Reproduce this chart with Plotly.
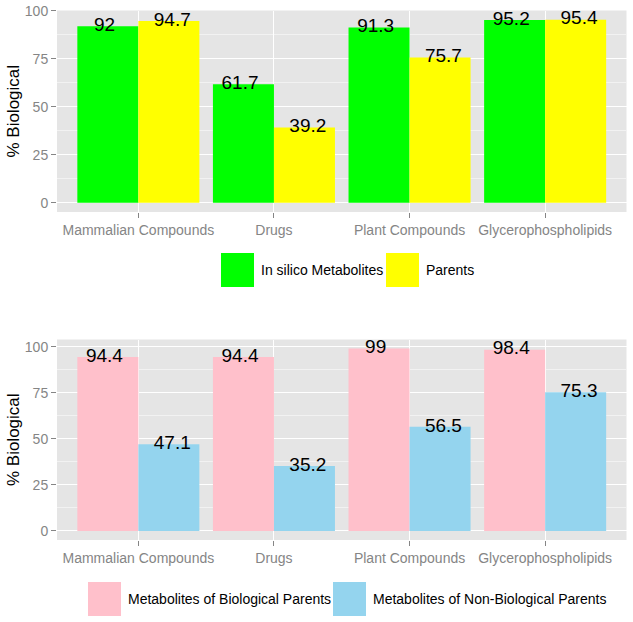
import numpy as np
import plotly.graph_objects as go

# ── data ──
categories = ["Mammalian Compounds", "Drugs", "Plant Compounds", "Glycerophospholipids"]

top_series = ["In silico Metabolites", "Parents"]
top_insilico = [92, 61.7, 91.3, 95.2]
top_parents = [94.7, 39.2, 75.7, 95.4]

bottom_series = ["Metabolites of Biological Parents", "Metabolites of Non-Biological Parents"]
bottom_bio = [94.4, 94.4, 99, 98.4]
bottom_nonbio = [47.1, 35.2, 56.5, 75.3]

y_ticks = [0, 25, 50, 75, 100]

# ── style ──
W, H = 633, 622
FONT = "Liberation Sans, Arial, sans-serif"
GREY = "#858585"
PANEL = "#E5E5E5"
top_colors = ["#00FF00", "#FFFF00"]
bottom_colors = ["#FFC0CB", "#94D4EE"]


def px_x(x):
    return x / W


def px_y(y):
    return 1 - y / H


pos = np.arange(1, len(categories) + 1)

fig = go.Figure()


def add_panel(series_names, values, colors, xa, ya):
    for k, (name, vals, col) in enumerate(zip(series_names, values, colors)):
        fig.add_trace(go.Bar(
            x=pos, y=vals, name=name, marker=dict(color=col, line=dict(width=0)),
            xaxis=xa, yaxis=ya, showlegend=False, offsetgroup=str(k),
        ))
    # labels centred on bar tops
    for k, vals in enumerate(values):
        shift = -0.25 if k == 0 else 0.25
        fig.add_trace(go.Scatter(
            x=pos + shift, y=vals, mode="text",
            text=[f"{v:g}" for v in vals], textposition="middle center",
            textfont=dict(family=FONT, size=19, color="black"),
            xaxis=xa, yaxis=ya, showlegend=False, hoverinfo="skip",
        ))


add_panel(top_series, [top_insilico, top_parents], top_colors, "x", "y")
add_panel(bottom_series, [bottom_bio, bottom_nonbio], bottom_colors, "x2", "y2")


def xaxis_style(anchor, domain):
    return dict(
        domain=domain, anchor=anchor, range=[0.4, 4.6], automargin=False,
        tickvals=list(pos), ticktext=categories,
        tickfont=dict(family=FONT, size=14, color=GREY),
        ticks="outside", ticklen=5, tickcolor=GREY,
        showgrid=True, gridcolor="white", gridwidth=1.3,
        zeroline=False, showline=False,
    )


def yaxis_style(anchor, domain, vals):
    mx = max(max(v) for v in vals)
    return dict(
        domain=domain, anchor=anchor, range=[-0.05 * mx, 1.05 * mx], automargin=False,
        tickvals=y_ticks,
        tickfont=dict(family=FONT, size=14, color=GREY),
        ticks="outside", ticklen=5, tickcolor=GREY,
        showgrid=True, gridcolor="white", gridwidth=1.3,
        minor=dict(dtick=12.5, tick0=0, showgrid=True, gridcolor="#F2F2F2", gridwidth=0.7),
        zeroline=False, showline=False,
        title=dict(text="% Biological", font=dict(family=FONT, size=17, color="black"), standoff=0),
    )


x_dom = [px_x(57), px_x(626.5)]
fig.update_layout(
    width=W, height=H,
    margin=dict(l=0, r=0, t=0, b=0),
    paper_bgcolor="white", plot_bgcolor=PANEL,
    barmode="group", bargap=0.1, bargroupgap=0,
    xaxis=xaxis_style("y", x_dom),
    yaxis=yaxis_style("x", [px_y(212), px_y(10.5)], [top_insilico, top_parents]),
    xaxis2=xaxis_style("y2", x_dom),
    yaxis2=yaxis_style("x2", [px_y(540), px_y(339.5)], [bottom_bio, bottom_nonbio]),
)

# ── hand-built legends (large ggplot-style keys) ──
legend_specs = [
    (top_series, top_colors, [221, 386], 253, 287),
    (bottom_series, bottom_colors, [88, 333], 582, 616),
]
for names, cols, xs, y0, y1 in legend_specs:
    for name, col, x0 in zip(names, cols, xs):
        fig.add_shape(type="rect", xref="paper", yref="paper",
                      x0=px_x(x0), x1=px_x(x0 + 33), y0=px_y(y1), y1=px_y(y0),
                      fillcolor=col, line=dict(width=0))
        fig.add_annotation(xref="paper", yref="paper", x=px_x(x0 + 38), y=px_y((y0 + y1) / 2),
                           text=name, showarrow=False, xanchor="left", yanchor="middle",
                           font=dict(family=FONT, size=14, color="black"))

# drop the browser's default body margin so the figure sits at the page corner
fig.write_html("out.html", config={"displayModeBar": False},
               post_script="document.body.style.margin='0';")
